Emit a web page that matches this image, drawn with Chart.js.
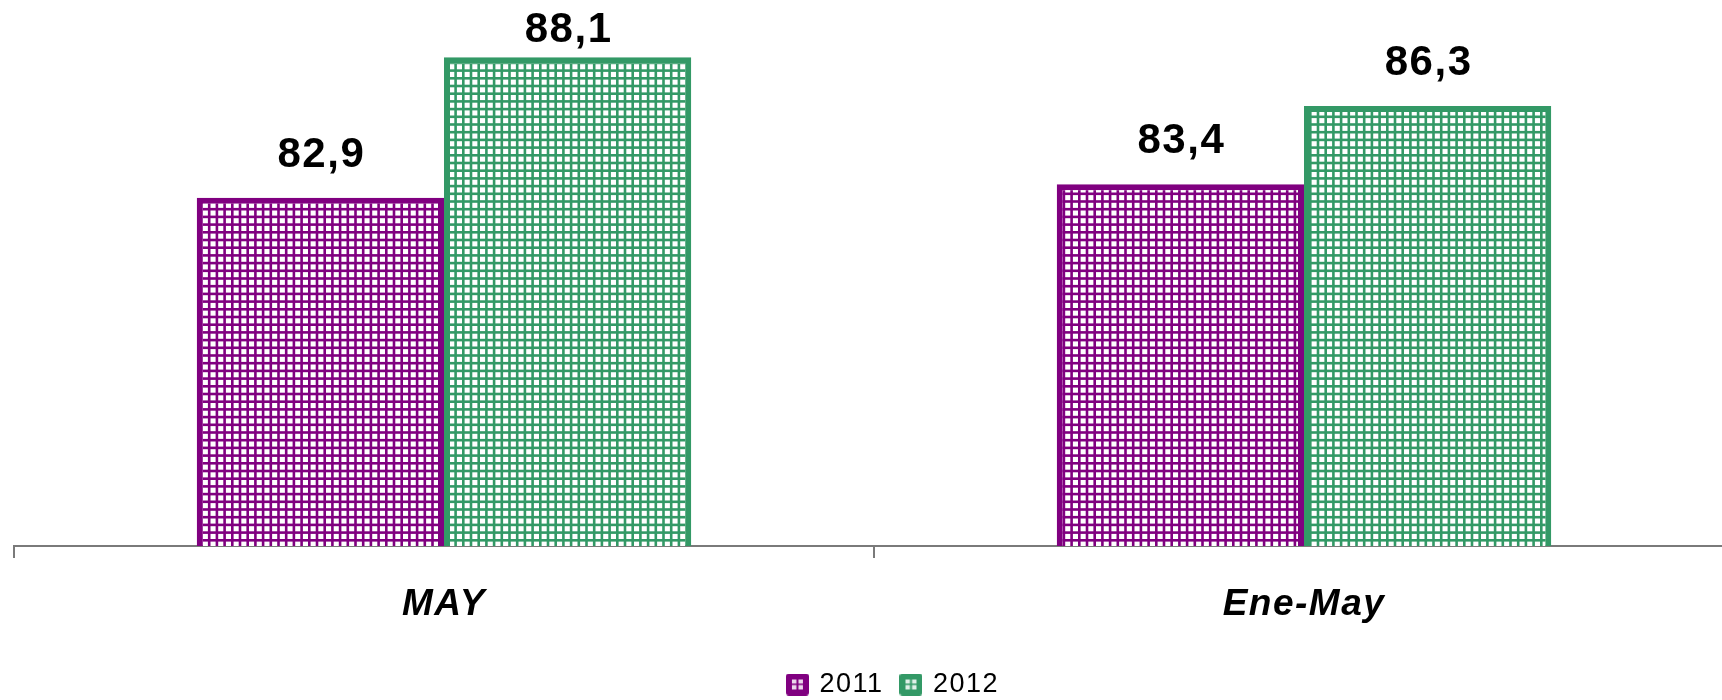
<!DOCTYPE html>
<html lang="es">
<head>
<meta charset="UTF-8">
<title>MAY / Ene-May 2011-2012</title>
<script src="https://cdn.jsdelivr.net/npm/chart.js"></script>
<style>
  html, body { margin: 0; padding: 0; background: #fff; overflow: hidden; }
  #marco { width: 1774px; height: 700px; }
  canvas { display: block; }
</style>
</head>
<body>
<div id="marco"><canvas id="grafico" width="1774" height="700"></canvas></div>
<script>
// Datos
const categorias = ['MAY', 'Ene-May'];
const series = ['2011', '2012'];
const valores2011 = [82.9, 83.4];
const valores2012 = [88.1, 86.3];
const colores = ['#800080', '#339966'];

const fuente = '"Liberation Sans", Arial, sans-serif';

// Trama cuadriculada de las barras
function trama(color) {
  const c = document.createElement('canvas');
  c.width = 77; c.height = 77;
  const g = c.getContext('2d');
  g.fillStyle = '#fff';
  g.fillRect(0, 0, 77, 77);
  g.fillStyle = color;
  for (let i = 0; i < 10; i++) {
    const p = i * 7.7;
    g.fillRect(p, 0, 2.6, 77);
    g.fillRect(0, p, 77, 2.6);
  }
  return g.createPattern(c, 'repeat');
}

// Icono de la leyenda
function icono(color) {
  const c = document.createElement('canvas');
  c.width = 23; c.height = 22;
  const g = c.getContext('2d');
  g.fillStyle = color;
  g.beginPath();
  g.roundRect(0, 0, 23, 22, 3);
  g.fill();
  g.fillStyle = 'rgba(255,255,255,0.85)';
  g.fillRect(6, 6, 11, 10);
  g.fillStyle = color;
  g.fillRect(10.5, 6, 2, 10);
  g.fillRect(6, 10, 11, 1.5);
  return c;
}

const espaciado = {
  id: 'espaciado',
  beforeLayout(chart) { chart.ctx.letterSpacing = '1.5px'; },
  beforeDraw(chart) { chart.ctx.letterSpacing = '1.5px'; }
};

// Etiquetas de valor sobre las barras
const etiquetas = {
  id: 'etiquetas',
  afterDatasetsDraw(chart) {
    const ctx = chart.ctx;
    ctx.save();
    ctx.font = 'bold 42px ' + fuente;
    ctx.letterSpacing = '1.5px';
    ctx.fillStyle = '#000';
    ctx.textAlign = 'center';
    ctx.textBaseline = 'alphabetic';
    chart.data.datasets.forEach((ds, i) => {
      chart.getDatasetMeta(i).data.forEach((barra, j) => {
        const y = Math.max(barra.y - 31, 42);
        ctx.fillText(ds.data[j].toFixed(1).replace('.', ','), barra.x + 1, y);
      });
    });
    ctx.restore();
  }
};

const iconos = colores.map(icono);

new Chart(document.getElementById('grafico'), {
  type: 'bar',
  data: {
    labels: categorias,
    datasets: [
      {
        label: series[0],
        data: valores2011,
        backgroundColor: trama(colores[0]),
        borderColor: colores[0],
        borderWidth: 6,
        borderSkipped: false
      },
      {
        label: series[1],
        data: valores2012,
        backgroundColor: trama(colores[1]),
        borderColor: colores[1],
        borderWidth: 6,
        borderSkipped: false
      }
    ]
  },
  options: {
    responsive: false,
    animation: false,
    events: [],
    layout: { padding: { left: 14, top: 6, right: 0, bottom: -8 } },
    datasets: {
      bar: { categoryPercentage: 0.575, barPercentage: 1 }
    },
    scales: {
      x: {
        grid: {
          offset: true,
          drawOnChartArea: false,
          tickLength: 12,
          color: '#7a7a7a',
          lineWidth: 2
        },
        border: { color: '#7a7a7a', width: 2 },
        ticks: {
          color: '#000',
          padding: -19,
          font: { family: fuente, size: 37, weight: 'bold', style: 'italic', lineHeight: 3.568 }
        }
      },
      y: {
        position: 'right',
        min: 70,
        max: 90,
        ticks: { display: false },
        grid: { display: false },
        border: { display: false },
        afterFit(escala) { escala.width = 40; }
      }
    },
    plugins: {
      tooltip: { enabled: false },
      legend: {
        position: 'bottom',
        labels: {
          color: '#000',
          font: { family: fuente, size: 27 },
          usePointStyle: true,
          pointStyleWidth: 17,
          boxHeight: 22,
          padding: 19,
          generateLabels(chart) {
            return chart.data.datasets.map((ds, i) => ({
              text: ds.label,
              pointStyle: iconos[i],
              fillStyle: colores[i],
              strokeStyle: colores[i],
              lineWidth: 0,
              fontColor: '#000',
              hidden: false,
              datasetIndex: i
            }));
          }
        }
      }
    }
  },
  plugins: [espaciado, etiquetas]
});
</script>
</body>
</html>
